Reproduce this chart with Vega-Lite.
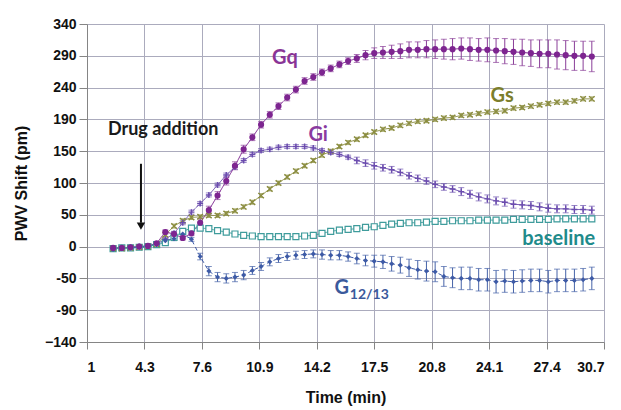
{
  "$schema": "https://vega.github.io/schema/vega-lite/v6.json",
  "width": 517,
  "height": 318,
  "autosize": {"type": "none"},
  "padding": {"left": 87, "top": 24, "right": 17, "bottom": 68},
  "background": "white",
  "config": {"view": {"stroke": null}, "font": "Liberation Sans"},
  "resolve": {"scale": {"color": "independent"}},
  "datasets": {
    "pts": [
      {"s":"Gq","t":2.5,"v":2,"e":2},{"s":"Gq","t":3,"v":2,"e":2},{"s":"Gq","t":3.5,"v":3,"e":2},{"s":"Gq","t":4,"v":4,"e":2},{"s":"Gq","t":4.5,"v":5,"e":2},{"s":"Gq","t":5,"v":9,"e":2},
      {"s":"Gq","t":5.5,"v":26,"e":3},{"s":"Gq","t":6,"v":23,"e":3},{"s":"Gq","t":6.5,"v":17,"e":3},{"s":"Gq","t":7,"v":24,"e":3},
      {"s":"Gq","t":7.5,"v":40,"e":6},{"s":"Gq","t":8,"v":59,"e":6},{"s":"Gq","t":8.5,"v":81,"e":6},{"s":"Gq","t":9,"v":103,"e":6},{"s":"Gq","t":9.5,"v":126,"e":6},{"s":"Gq","t":10,"v":151,"e":6},
      {"s":"Gq","t":10.5,"v":169,"e":5},{"s":"Gq","t":11,"v":188,"e":5},{"s":"Gq","t":11.5,"v":203,"e":5},{"s":"Gq","t":12,"v":216,"e":5},{"s":"Gq","t":12.5,"v":229,"e":5},{"s":"Gq","t":13,"v":241,"e":5},
      {"s":"Gq","t":13.5,"v":254,"e":5},{"s":"Gq","t":14,"v":260,"e":5},{"s":"Gq","t":14.5,"v":267,"e":5},{"s":"Gq","t":15,"v":273,"e":5},{"s":"Gq","t":15.5,"v":279,"e":5},{"s":"Gq","t":16,"v":284,"e":5},
      {"s":"Gq","t":16.5,"v":288,"e":6},{"s":"Gq","t":17,"v":293,"e":7},{"s":"Gq","t":17.5,"v":296,"e":8},{"s":"Gq","t":18,"v":297,"e":9},{"s":"Gq","t":18.5,"v":298,"e":10},{"s":"Gq","t":19,"v":299,"e":11},
      {"s":"Gq","t":19.5,"v":301,"e":12},{"s":"Gq","t":20,"v":301,"e":12},{"s":"Gq","t":20.5,"v":302,"e":13},{"s":"Gq","t":21,"v":302,"e":14},{"s":"Gq","t":21.5,"v":302,"e":15},{"s":"Gq","t":22,"v":302,"e":16},
      {"s":"Gq","t":22.5,"v":303,"e":16},{"s":"Gq","t":23,"v":302,"e":17},{"s":"Gq","t":23.5,"v":301,"e":17},{"s":"Gq","t":24,"v":301,"e":18},{"s":"Gq","t":24.5,"v":300,"e":18},{"s":"Gq","t":25,"v":299,"e":19},
      {"s":"Gq","t":25.5,"v":298,"e":19},{"s":"Gq","t":26,"v":297,"e":20},{"s":"Gq","t":26.5,"v":296,"e":20},{"s":"Gq","t":27,"v":295,"e":21},{"s":"Gq","t":27.5,"v":295,"e":21},{"s":"Gq","t":28,"v":294,"e":22},
      {"s":"Gq","t":28.5,"v":293,"e":22},{"s":"Gq","t":29,"v":292,"e":22},{"s":"Gq","t":29.5,"v":292,"e":22},{"s":"Gq","t":30,"v":291,"e":23},

      {"s":"Gi","t":2.5,"v":1,"e":3},{"s":"Gi","t":3,"v":2,"e":3},{"s":"Gi","t":3.5,"v":3,"e":3},{"s":"Gi","t":4,"v":4,"e":3},{"s":"Gi","t":4.5,"v":5,"e":3},{"s":"Gi","t":5,"v":8,"e":3},
      {"s":"Gi","t":5.5,"v":15,"e":3},{"s":"Gi","t":6,"v":24,"e":3},{"s":"Gi","t":6.5,"v":40,"e":3},{"s":"Gi","t":7,"v":56,"e":3},{"s":"Gi","t":7.5,"v":69,"e":3},{"s":"Gi","t":8,"v":82,"e":3},
      {"s":"Gi","t":8.5,"v":97,"e":3},{"s":"Gi","t":9,"v":112,"e":3},{"s":"Gi","t":9.5,"v":124,"e":3},{"s":"Gi","t":10,"v":134,"e":3},{"s":"Gi","t":10.5,"v":143,"e":3},{"s":"Gi","t":11,"v":149,"e":3},
      {"s":"Gi","t":11.5,"v":151,"e":3},{"s":"Gi","t":12,"v":154,"e":3},{"s":"Gi","t":12.5,"v":155,"e":3},{"s":"Gi","t":13,"v":155,"e":3},{"s":"Gi","t":13.5,"v":155,"e":3},{"s":"Gi","t":14,"v":153,"e":3},
      {"s":"Gi","t":14.5,"v":149,"e":3},{"s":"Gi","t":15,"v":146,"e":3},{"s":"Gi","t":15.5,"v":143,"e":3},{"s":"Gi","t":16,"v":139,"e":3},
      {"s":"Gi","t":16.5,"v":134,"e":5},{"s":"Gi","t":17,"v":130,"e":5},{"s":"Gi","t":17.5,"v":126,"e":5},{"s":"Gi","t":18,"v":123,"e":5},{"s":"Gi","t":18.5,"v":120,"e":5},{"s":"Gi","t":19,"v":116,"e":5},
      {"s":"Gi","t":19.5,"v":111,"e":5},{"s":"Gi","t":20,"v":107,"e":5},{"s":"Gi","t":20.5,"v":103,"e":5},{"s":"Gi","t":21,"v":98,"e":5},{"s":"Gi","t":21.5,"v":94,"e":5},{"s":"Gi","t":22,"v":91,"e":5},
      {"s":"Gi","t":22.5,"v":87,"e":6},{"s":"Gi","t":23,"v":83,"e":6},{"s":"Gi","t":23.5,"v":79,"e":6},{"s":"Gi","t":24,"v":76,"e":6},{"s":"Gi","t":24.5,"v":73,"e":6},{"s":"Gi","t":25,"v":71,"e":6},
      {"s":"Gi","t":25.5,"v":68,"e":6},{"s":"Gi","t":26,"v":67,"e":6},{"s":"Gi","t":26.5,"v":66,"e":6},{"s":"Gi","t":27,"v":64,"e":6},{"s":"Gi","t":27.5,"v":62,"e":6},{"s":"Gi","t":28,"v":61,"e":6},
      {"s":"Gi","t":28.5,"v":61,"e":6},{"s":"Gi","t":29,"v":60,"e":6},{"s":"Gi","t":29.5,"v":60,"e":6},{"s":"Gi","t":30,"v":59,"e":6},

      {"s":"Gs","t":2.5,"v":1,"e":2},{"s":"Gs","t":3,"v":1,"e":2},{"s":"Gs","t":3.5,"v":2,"e":2},{"s":"Gs","t":4,"v":3,"e":2},{"s":"Gs","t":4.5,"v":4,"e":2},{"s":"Gs","t":5,"v":7,"e":2},
      {"s":"Gs","t":5.5,"v":22,"e":3},{"s":"Gs","t":6,"v":35,"e":3},{"s":"Gs","t":6.5,"v":43,"e":3},{"s":"Gs","t":7,"v":48,"e":3},{"s":"Gs","t":7.5,"v":49,"e":3},{"s":"Gs","t":8,"v":51,"e":3},
      {"s":"Gs","t":8.5,"v":51,"e":3},{"s":"Gs","t":9,"v":54,"e":3},{"s":"Gs","t":9.5,"v":58,"e":3},{"s":"Gs","t":10,"v":64,"e":3},{"s":"Gs","t":10.5,"v":71,"e":3},{"s":"Gs","t":11,"v":81,"e":3},
      {"s":"Gs","t":11.5,"v":91,"e":3},{"s":"Gs","t":12,"v":100,"e":3},{"s":"Gs","t":12.5,"v":109,"e":3},{"s":"Gs","t":13,"v":118,"e":3},{"s":"Gs","t":13.5,"v":126,"e":3},{"s":"Gs","t":14,"v":134,"e":3},
      {"s":"Gs","t":14.5,"v":142,"e":3},{"s":"Gs","t":15,"v":148,"e":3},{"s":"Gs","t":15.5,"v":155,"e":3},{"s":"Gs","t":16,"v":161,"e":3},{"s":"Gs","t":16.5,"v":166,"e":3},{"s":"Gs","t":17,"v":172,"e":3},
      {"s":"Gs","t":17.5,"v":177,"e":3},{"s":"Gs","t":18,"v":181,"e":3},{"s":"Gs","t":18.5,"v":183,"e":3},{"s":"Gs","t":19,"v":187,"e":3},{"s":"Gs","t":19.5,"v":190,"e":3},{"s":"Gs","t":20,"v":193,"e":3},
      {"s":"Gs","t":20.5,"v":194,"e":3},{"s":"Gs","t":21,"v":196,"e":3},{"s":"Gs","t":21.5,"v":198,"e":3},{"s":"Gs","t":22,"v":199,"e":3},{"s":"Gs","t":22.5,"v":202,"e":3},{"s":"Gs","t":23,"v":203,"e":3},
      {"s":"Gs","t":23.5,"v":205,"e":3},{"s":"Gs","t":24,"v":207,"e":3},{"s":"Gs","t":24.5,"v":208,"e":3},{"s":"Gs","t":25,"v":209,"e":3},{"s":"Gs","t":25.5,"v":213,"e":3},{"s":"Gs","t":26,"v":214,"e":3},
      {"s":"Gs","t":26.5,"v":216,"e":3},{"s":"Gs","t":27,"v":218,"e":3},{"s":"Gs","t":27.5,"v":220,"e":3},{"s":"Gs","t":28,"v":222,"e":3},{"s":"Gs","t":28.5,"v":222,"e":3},{"s":"Gs","t":29,"v":224,"e":3},
      {"s":"Gs","t":29.5,"v":227,"e":3},{"s":"Gs","t":30,"v":227,"e":3},

      {"s":"baseline","t":2.5,"v":1,"e":2},{"s":"baseline","t":3,"v":2,"e":2},{"s":"baseline","t":3.5,"v":2,"e":2},{"s":"baseline","t":4,"v":3,"e":2},{"s":"baseline","t":4.5,"v":4,"e":2},{"s":"baseline","t":5,"v":7,"e":2},
      {"s":"baseline","t":5.5,"v":10,"e":2},{"s":"baseline","t":6,"v":18,"e":2},{"s":"baseline","t":6.5,"v":27,"e":2},{"s":"baseline","t":7,"v":32,"e":2},{"s":"baseline","t":7.5,"v":32,"e":3},{"s":"baseline","t":8,"v":31,"e":3},
      {"s":"baseline","t":8.5,"v":28,"e":3},{"s":"baseline","t":9,"v":26,"e":3},{"s":"baseline","t":9.5,"v":23,"e":3},{"s":"baseline","t":10,"v":21,"e":3},{"s":"baseline","t":10.5,"v":20,"e":3},{"s":"baseline","t":11,"v":19,"e":3},
      {"s":"baseline","t":11.5,"v":19,"e":3},{"s":"baseline","t":12,"v":19,"e":3},{"s":"baseline","t":12.5,"v":19,"e":3},{"s":"baseline","t":13,"v":19,"e":3},{"s":"baseline","t":13.5,"v":20,"e":3},{"s":"baseline","t":14,"v":21,"e":3},
      {"s":"baseline","t":14.5,"v":24,"e":4},{"s":"baseline","t":15,"v":27,"e":4},{"s":"baseline","t":15.5,"v":29,"e":4},{"s":"baseline","t":16,"v":30,"e":4},{"s":"baseline","t":16.5,"v":31,"e":4},{"s":"baseline","t":17,"v":33,"e":4},
      {"s":"baseline","t":17.5,"v":34,"e":4},{"s":"baseline","t":18,"v":36,"e":4},{"s":"baseline","t":18.5,"v":38,"e":4},{"s":"baseline","t":19,"v":39,"e":4},{"s":"baseline","t":19.5,"v":40,"e":4},{"s":"baseline","t":20,"v":40,"e":4},
      {"s":"baseline","t":20.5,"v":41,"e":4},{"s":"baseline","t":21,"v":42,"e":4},{"s":"baseline","t":21.5,"v":42,"e":4},{"s":"baseline","t":22,"v":43,"e":4},{"s":"baseline","t":22.5,"v":43,"e":4},{"s":"baseline","t":23,"v":43,"e":4},
      {"s":"baseline","t":23.5,"v":44,"e":4},{"s":"baseline","t":24,"v":44,"e":4},{"s":"baseline","t":24.5,"v":44,"e":4},{"s":"baseline","t":25,"v":44,"e":4},{"s":"baseline","t":25.5,"v":45,"e":4},{"s":"baseline","t":26,"v":45,"e":4},
      {"s":"baseline","t":26.5,"v":45,"e":4},{"s":"baseline","t":27,"v":45,"e":4},{"s":"baseline","t":27.5,"v":45,"e":4},{"s":"baseline","t":28,"v":46,"e":4},{"s":"baseline","t":28.5,"v":46,"e":4},{"s":"baseline","t":29,"v":46,"e":4},
      {"s":"baseline","t":29.5,"v":46,"e":4},{"s":"baseline","t":30,"v":46,"e":4},

      {"s":"G12/13","t":2.5,"v":0,"e":3},{"s":"G12/13","t":3,"v":1,"e":3},{"s":"G12/13","t":3.5,"v":2,"e":3},{"s":"G12/13","t":4,"v":3,"e":3},{"s":"G12/13","t":4.5,"v":4,"e":3},{"s":"G12/13","t":5,"v":7,"e":3},
      {"s":"G12/13","t":5.5,"v":13,"e":3},{"s":"G12/13","t":6,"v":16,"e":3},{"s":"G12/13","t":6.5,"v":23,"e":3},{"s":"G12/13","t":7,"v":15,"e":3},{"s":"G12/13","t":7.5,"v":-11,"e":5},{"s":"G12/13","t":8,"v":-33,"e":7},
      {"s":"G12/13","t":8.5,"v":-42,"e":7},{"s":"G12/13","t":9,"v":-44,"e":7},{"s":"G12/13","t":9.5,"v":-42,"e":7},{"s":"G12/13","t":10,"v":-39,"e":7},{"s":"G12/13","t":10.5,"v":-32,"e":6},{"s":"G12/13","t":11,"v":-26,"e":6},
      {"s":"G12/13","t":11.5,"v":-19,"e":6},{"s":"G12/13","t":12,"v":-14,"e":6},{"s":"G12/13","t":12.5,"v":-11,"e":6},{"s":"G12/13","t":13,"v":-9,"e":6},{"s":"G12/13","t":13.5,"v":-8,"e":6},{"s":"G12/13","t":14,"v":-7,"e":6},
      {"s":"G12/13","t":14.5,"v":-8,"e":7},{"s":"G12/13","t":15,"v":-9,"e":7},{"s":"G12/13","t":15.5,"v":-9,"e":7},{"s":"G12/13","t":16,"v":-11,"e":7},{"s":"G12/13","t":16.5,"v":-14,"e":8},{"s":"G12/13","t":17,"v":-17,"e":8},
      {"s":"G12/13","t":17.5,"v":-18,"e":9},{"s":"G12/13","t":18,"v":-19,"e":10},{"s":"G12/13","t":18.5,"v":-22,"e":11},{"s":"G12/13","t":19,"v":-24,"e":12},{"s":"G12/13","t":19.5,"v":-28,"e":13},{"s":"G12/13","t":20,"v":-31,"e":14},
      {"s":"G12/13","t":20.5,"v":-33,"e":15},{"s":"G12/13","t":21,"v":-34,"e":15},{"s":"G12/13","t":21.5,"v":-41,"e":15},{"s":"G12/13","t":22,"v":-43,"e":15},{"s":"G12/13","t":22.5,"v":-44,"e":17},{"s":"G12/13","t":23,"v":-44,"e":17},
      {"s":"G12/13","t":23.5,"v":-46,"e":17},{"s":"G12/13","t":24,"v":-46,"e":17},{"s":"G12/13","t":24.5,"v":-49,"e":17},{"s":"G12/13","t":25,"v":-48,"e":17},{"s":"G12/13","t":25.5,"v":-49,"e":17},{"s":"G12/13","t":26,"v":-48,"e":17},
      {"s":"G12/13","t":26.5,"v":-47,"e":17},{"s":"G12/13","t":27,"v":-47,"e":17},{"s":"G12/13","t":27.5,"v":-49,"e":17},{"s":"G12/13","t":28,"v":-47,"e":17},{"s":"G12/13","t":28.5,"v":-47,"e":17},{"s":"G12/13","t":29,"v":-47,"e":17},
      {"s":"G12/13","t":29.5,"v":-46,"e":17},{"s":"G12/13","t":30,"v":-44,"e":17}
    ],
    "labels": [
      {"s":"Gq","t":12.37,"v":279,"txt":"Gq"},
      {"s":"Gi","t":14.28,"v":164,"txt":"Gi"},
      {"s":"Gs","t":24.85,"v":222,"txt":"Gs"},
      {"s":"baseline","t":28.1,"v":6,"txt":"baseline"},
      {"s":"G12/13","t":15.64,"v":-67,"txt":"G"}
    ],
    "sub": [{"t":16.1,"v":-75,"txt":"12/13"}],
    "drug": [{"t":2.2,"v":172,"txt":"Drug addition"}],
    "arrow": [{"t":4.1,"v":129,"v2":40}],
    "head": [{"t":4.1,"v":35}]
  },
  "layer": [
    {
      "data": {"name": "pts"},
      "mark": {"type": "errorbar", "ticks": {"size": 6}, "thickness": 1},
      "encoding": {
        "x": {"field": "t", "type": "quantitative", "scale": {"domain": [1, 30.7], "nice": false, "zero": false},
          "axis": {"values": [1,4.3,7.6,10.9,14.2,17.5,20.8,24.1,27.4,30.7], "tickCount": 20, "format": ".1~f", "title": "Time (min)",
            "grid": true, "gridColor": "#ababbd", "gridWidth": 1, "domainColor": "#858585", "tickColor": "#858585", "tickSize": 7,
            "labelFont": "Liberation Sans", "labelFontWeight": "bold", "labelFontSize": 14, "labelColor": "#111111", "labelPadding": 11,
            "titleFont": "Liberation Sans", "titleFontWeight": "bold", "titleFontSize": 16, "titleColor": "#111111", "titleY": 47, "titleBaseline": "top"}},
        "y": {"field": "v", "type": "quantitative", "scale": {"domain": [-140, 340], "nice": false, "zero": false},
          "axis": {"values": [-140,-92,-44,4,52,100,148,196,244,292,340], "tickCount": 20, "labelOverlap": false,
            "labelExpr": "datum.value == -92 ? '-90' : datum.value == -44 ? '-50' : datum.value == 4 ? '0' : datum.value == 52 ? '50' : datum.value == 148 ? '150' : datum.value == 196 ? '190' : datum.value == 244 ? '240' : datum.value == 292 ? '290' : datum.label",
            "title": "PWV Shift (pm)", "grid": true, "gridColor": "#ababbd", "gridWidth": 1, "domainColor": "#858585", "tickColor": "#858585", "tickSize": 8,
            "labelFont": "Liberation Sans", "labelFontWeight": "bold", "labelFontSize": 14, "labelColor": "#111111", "labelPadding": 3,
            "titleFont": "Liberation Sans", "titleFontWeight": "bold", "titleFontSize": 16, "titleColor": "#111111", "titleX": -66, "titleY": 159, "titleAlign": "center", "titleBaseline": "middle"}},
        "yError": {"field": "e"},
        "color": {"field": "s", "type": "nominal", "legend": null,
          "scale": {"domain": ["Gq","Gi","Gs","baseline","G12/13"], "range": ["#8a3e98","#6f55b0","#8f9146","#4aa3a3","#4663a8"]}}
      }
    },
    {
      "data": {"name": "pts"},
      "mark": {"type": "line", "strokeWidth": 1},
      "encoding": {
        "x": {"field": "t", "type": "quantitative"},
        "y": {"field": "v", "type": "quantitative"},
        "color": {"field": "s", "type": "nominal", "legend": null,
          "scale": {"domain": ["Gq","Gi","Gs","baseline","G12/13"], "range": ["#7d2590","#6b4cae","#8a8c3e","#3f9c9c","#3d5aa6"]}},
        "strokeDash": {"field": "s", "type": "nominal", "legend": null,
          "scale": {"domain": ["Gq","Gi","Gs","baseline","G12/13"], "range": [[1,0],[1,0],[1,0],[1,0],[4,3]]}}
      }
    },
    {
      "data": {"name": "pts"},
      "transform": [{"filter": "datum.s == 'baseline'"}],
      "mark": {"type": "point", "shape": "square", "size": 36, "filled": false, "fill": "white", "fillOpacity": 1, "stroke": "#3f9c9c", "strokeWidth": 1.2, "opacity": 1},
      "encoding": {"x": {"field": "t", "type": "quantitative"}, "y": {"field": "v", "type": "quantitative"}}
    },
    {
      "data": {"name": "pts"},
      "transform": [{"filter": "datum.s == 'Gs'"}],
      "mark": {"type": "point", "shape": "M-1,-1L1,1M1,-1L-1,1", "size": 30, "filled": false, "stroke": "#8a8c3e", "strokeWidth": 1.3, "opacity": 1},
      "encoding": {"x": {"field": "t", "type": "quantitative"}, "y": {"field": "v", "type": "quantitative"}}
    },
    {
      "data": {"name": "pts"},
      "transform": [{"filter": "datum.s == 'Gi'"}],
      "mark": {"type": "point", "shape": "M-1,0H1M0,-1V1", "size": 36, "filled": false, "stroke": "#6b4cae", "strokeWidth": 1.4, "opacity": 1},
      "encoding": {"x": {"field": "t", "type": "quantitative"}, "y": {"field": "v", "type": "quantitative"}}
    },
    {
      "data": {"name": "pts"},
      "transform": [{"filter": "datum.s == 'G12/13'"}],
      "mark": {"type": "point", "shape": "diamond", "size": 26, "filled": true, "color": "#3d5aa6", "opacity": 1},
      "encoding": {"x": {"field": "t", "type": "quantitative"}, "y": {"field": "v", "type": "quantitative"}}
    },
    {
      "data": {"name": "pts"},
      "transform": [{"filter": "datum.s == 'Gq'"}],
      "mark": {"type": "point", "shape": "circle", "size": 38, "filled": true, "color": "#7d2590", "opacity": 1},
      "encoding": {"x": {"field": "t", "type": "quantitative"}, "y": {"field": "v", "type": "quantitative"}}
    },
    {
      "data": {"name": "labels"},
      "mark": {"type": "text", "font": "Lato", "fontWeight": "bold", "fontSize": 20, "align": "center", "baseline": "alphabetic"},
      "encoding": {
        "x": {"field": "t", "type": "quantitative"},
        "y": {"field": "v", "type": "quantitative"},
        "text": {"field": "txt"},
        "color": {"field": "s", "type": "nominal", "legend": null,
          "scale": {"domain": ["Gq","Gi","Gs","baseline","G12/13"], "range": ["#8a3596","#8a3a9f","#7c7e2c","#1f8b8b","#3b5a9c"]}}
      }
    },
    {
      "data": {"name": "sub"},
      "mark": {"type": "text", "font": "Lato", "fontWeight": "bold", "fontSize": 14, "align": "left", "baseline": "alphabetic", "color": "#3b5a9c"},
      "encoding": {"x": {"field": "t", "type": "quantitative"}, "y": {"field": "v", "type": "quantitative"}, "text": {"field": "txt"}}
    },
    {
      "data": {"name": "drug"},
      "mark": {"type": "text", "font": "Lato", "fontWeight": "bold", "fontSize": 18, "align": "left", "baseline": "alphabetic", "color": "#1a1a1a"},
      "encoding": {"x": {"field": "t", "type": "quantitative"}, "y": {"field": "v", "type": "quantitative"}, "text": {"field": "txt"}}
    },
    {
      "data": {"name": "arrow"},
      "mark": {"type": "rule", "strokeWidth": 2, "color": "#111111"},
      "encoding": {"x": {"field": "t", "type": "quantitative"}, "y": {"field": "v", "type": "quantitative"}, "y2": {"field": "v2"}}
    },
    {
      "data": {"name": "head"},
      "mark": {"type": "point", "shape": "triangle-down", "size": 70, "filled": true, "color": "#111111", "opacity": 1},
      "encoding": {"x": {"field": "t", "type": "quantitative"}, "y": {"field": "v", "type": "quantitative"}}
    }
  ]
}
